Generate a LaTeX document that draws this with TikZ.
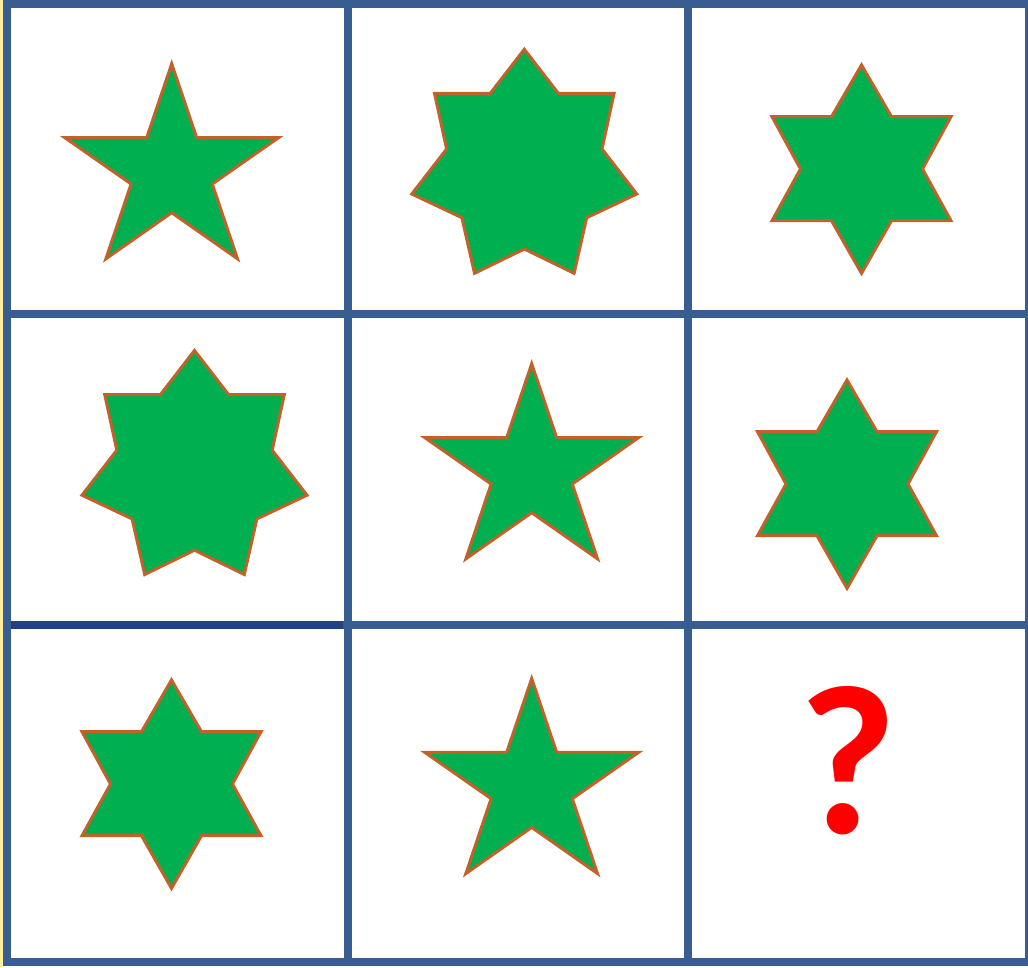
\documentclass[tikz,border=0pt]{standalone}
\usepackage{fontspec}
\newfontfamily\qfont{Carlito}
\definecolor{gridblue}{HTML}{385E91}
\definecolor{gridbluedark}{HTML}{22417F}
\definecolor{starfill}{HTML}{00B050}
\definecolor{starline}{HTML}{C0622A}
\definecolor{edgeyellow}{HTML}{FFF0A0}
\tikzset{
  shapestyle/.style={fill=starfill, draw=starline, line width=3pt, line join=miter},
  gridline/.style={draw=gridblue, line width=8pt},
  qmark/.style={anchor=base, inner sep=0pt, text=red, font=\qfont\bfseries\fontsize{213}{213}\selectfont},
  pics/starfive/.style={code={
    \draw[shapestyle] (0,1.5) -- (25,75.4) -- (106.8,75.4) -- (40.6,121.7) -- (65.8,196.5)
      -- (0,150.4) -- (-65.8,196.5) -- (-40.6,121.7) -- (-106.8,75.4) -- (-25,75.4) -- cycle;}},
  pics/starsix/.style={code={
    \draw[shapestyle] (0,0) -- (30,51.7) -- (89.5,51.7) -- (61,104) -- (89.5,155.7) -- (30,155.7)
      -- (0,208.3) -- (-30,155.7) -- (-89.5,155.7) -- (-61,104) -- (-89.5,51.7) -- (-30,51.7) -- cycle;}},
  pics/starseven/.style={code={
    \draw[shapestyle] (0,0) -- (34,44) -- (89.8,44) -- (77.7,99.7) -- (112.5,144.7) -- (62.4,168.4)
      -- (49.8,224) -- (0,199.7) -- (-49.8,224) -- (-62.4,168.4) -- (-112.5,144.7) -- (-77.7,99.7)
      -- (-89.8,44) -- (-34,44) -- cycle;}}
}
\begin{document}
\begin{tikzpicture}[x=1pt, y=-1pt]
  \useasboundingbox (0,0) rectangle (1028,967);
  \fill[white] (0,0) rectangle (1028,967);
  \fill[edgeyellow] (0,0) rectangle (3,967);
  % grid
  \draw[gridline] (3,4) -- (1028,4);
  \draw[gridline] (3,314) -- (1028,314);
  \draw[gridline] (3,625) -- (1028,625);
  \draw[gridline] (3,962) -- (1028,962);
  \draw[draw=gridbluedark, line width=8pt] (11,625) -- (343,625);
  \draw[gridline] (7,0) -- (7,966);
  \draw[gridline] (347.5,0) -- (347.5,966);
  \draw[gridline] (688,0) -- (688,966);
  \draw[gridline] (1029,0) -- (1029,966);
  % row 1
  \pic at (171.7,62.3) {starfive};
  \pic at (524.3,49.3) {starseven};
  \pic at (861.5,65) {starsix};
  % row 2
  \pic at (194.5,350.5) {starseven};
  \pic at (531.7,362.3) {starfive};
  \pic at (847,380) {starsix};
  % row 3
  \pic at (171.5,680) {starsix};
  \pic at (531.7,677) {starfive};
  \node[qmark] (q) at (848,833) {?};
\end{tikzpicture}
\end{document}
